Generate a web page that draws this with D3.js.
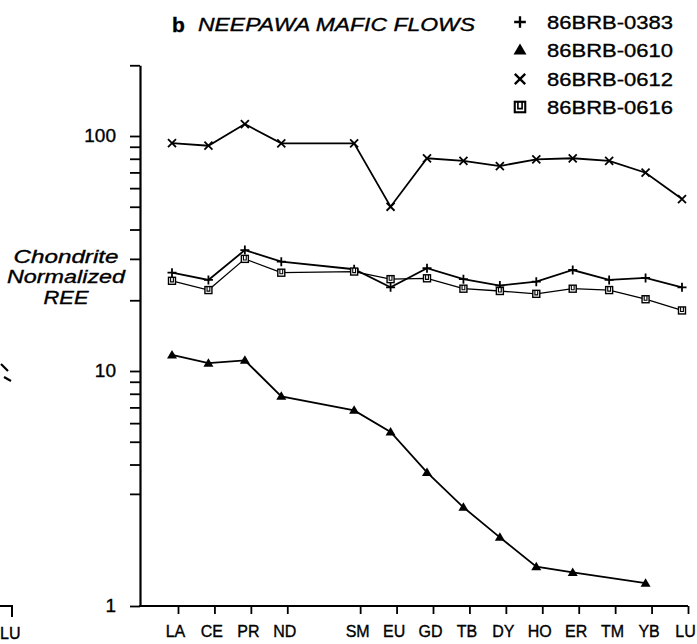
<!DOCTYPE html>
<html>
<head>
<meta charset="utf-8">
<script src="https://cdn.jsdelivr.net/npm/d3@7"></script>
<style>
  html, body { margin: 0; padding: 0; background: #fff; }
  svg { display: block; }
  text { font-family: "Liberation Sans", Arial, Helvetica, sans-serif; fill: #000; stroke: #000; stroke-width: 0.35px; }
</style>
</head>
<body>
<script>
// ---------- DATA ----------
const elements = ["LA","CE","PR","ND","PM","SM","EU","GD","TB","DY","HO","ER","TM","YB","LU"];
const categories = ["LA","CE","PR","ND","SM","EU","GD","TB","DY","HO","ER","TM","YB","LU"];
const s0383 = [26.2, 24.4, 32.7, 29.2, 27.1, 22.7, 27.4, 24.6, 23.1, 24.0, 26.9, 24.4, 24.9, 22.7];
const s0610 = [11.7, 10.8, 11.1, 7.8, 6.8, 5.5, 3.7, 2.63, 1.96, 1.47, 1.39, null, 1.25, null];
const s0612 = [93.3, 90.9, 112.4, 93.0, 93.0, 50.0, 80.4, 78.3, 74.5, 79.6, 80.4, 78.3, 69.8, 53.9];
const s0616 = [24.2, 22.1, 30.0, 26.2, 26.5, 24.6, 24.8, 22.4, 21.9, 21.3, 22.4, 22.1, 20.2, 18.1];
const seriesNames = ["86BRB-0383", "86BRB-0610", "86BRB-0612", "86BRB-0616"];
const seriesMarkers = ["plus", "triangle", "cross", "square"];
const yTickValues = [1, 3, 4, 5, 6, 7, 8, 9, 10, 20, 30, 40, 50, 60, 70, 80, 90, 100, 200];
const yTickLabels = [1, 10, 100];
const titleBold = "b";
const titleItalic = "NEEPAWA MAFIC FLOWS";
const yLabelLines = ["Chondrite", "Normalized", "REE"];

const seriesValues = [s0383, s0610, s0612, s0616];

// ---------- LAYOUT ----------
const W = 697, H = 644;
const svg = d3.select("body").append("svg").attr("width", W).attr("height", H);

const x = d3.scalePoint().domain(elements).range([172, 682]);
const y = d3.scaleLog().domain([1, 200]).range([606, 606 - Math.log10(200) * 235]);

// Y axis
const yAxis = d3.axisLeft(y)
  .tickValues(yTickValues)
  .tickSize(10)
  .tickSizeOuter(0)
  .tickPadding(14)
  .tickFormat(d => yTickLabels.includes(d) ? String(d) : "");
const gy = svg.append("g").attr("transform", "translate(140,0)").call(yAxis);
gy.select(".domain").attr("stroke", "#000").attr("stroke-width", 2.2);
gy.selectAll(".tick line").attr("stroke", "#000").attr("stroke-width", 1.8);
gy.selectAll(".tick text").style("font-size", "19px").attr("dy", "0.3em");

// X axis baseline
svg.append("path").attr("d", `M139,${y(1)}H${x("LU") + 6}`)
  .attr("stroke", "#000").attr("stroke-width", 2.2).attr("fill", "none");
const xAxis = d3.axisBottom(x)
  .tickValues(categories)
  .tickSize(8)
  .tickSizeOuter(0)
  .tickPadding(12);
const gx = svg.append("g").attr("transform", `translate(6,${y(1)})`).call(xAxis);
gx.select(".domain").remove();
gx.selectAll(".tick line").attr("stroke", "#000").attr("stroke-width", 1.8);
gx.selectAll(".tick text").style("font-size", "16px").attr("dx", "-3");

// Lines
const line = d3.line().x(d => x(d.c)).y(d => y(d.v));
const strokeW = [1.8, 1.8, 1.8, 1.3];
seriesValues.forEach((vals, i) => {
  const pts = categories.map((c, j) => ({c, v: vals[j]})).filter(d => d.v != null);
  svg.append("path").datum(pts).attr("d", line)
    .attr("fill", "none").attr("stroke", "#000").attr("stroke-width", strokeW[i]);
  const g = svg.append("g");
  pts.forEach(d => drawMarker(g, seriesMarkers[i], x(d.c), y(d.v), 1));
});

function drawMarker(g, type, cx, cy, s) {
  if (type === "plus") {
    const a = 4.5 * s;
    g.append("path").attr("d", `M${cx - a},${cy}H${cx + a}M${cx},${cy - a}V${cy + a}`)
      .attr("stroke", "#000").attr("stroke-width", 1.8 * s).attr("fill", "none");
  } else if (type === "cross") {
    const a = 4 * s;
    g.append("path").attr("d", `M${cx - a},${cy - a}L${cx + a},${cy + a}M${cx - a},${cy + a}L${cx + a},${cy - a}`)
      .attr("stroke", "#000").attr("stroke-width", 1.8 * s).attr("fill", "none");
  } else if (type === "triangle") {
    const a = 5 * s;
    g.append("path").attr("d", `M${cx},${cy - a}L${cx + a},${cy + a * 0.7}L${cx - a},${cy + a * 0.7}Z`)
      .attr("fill", "#000");
  } else if (type === "square") {
    const a = 3.5 * s;
    g.append("rect").attr("x", cx - a).attr("y", cy - a).attr("width", 2 * a).attr("height", 2 * a)
      .attr("fill", "#fff").attr("stroke", "#000").attr("stroke-width", 1.4 * s);
    g.append("path").attr("d", `M${cx - a * 0.4},${cy - a}V${cy + a * 0.3}H${cx + a * 0.4}V${cy - a}`)
      .attr("fill", "none").attr("stroke", "#000").attr("stroke-width", 1.1 * s);
  }
}

// Legend
const legendRowsY = [22, 50, 79, 107];
seriesNames.forEach((name, i) => {
  const ly = legendRowsY[i];
  drawMarker(svg, seriesMarkers[i], 520, ly, i === 3 ? 1.5 : 1.3);
  svg.append("text").attr("x", 547).attr("y", ly + 7)
    .attr("textLength", 126).attr("lengthAdjust", "spacingAndGlyphs")
    .style("font-size", "19px").text(name);
});

// Title
svg.append("text").attr("x", 172).attr("y", 32).style("font-size", "21px").style("font-weight", "bold").text(titleBold);
svg.append("text").attr("x", 198).attr("y", 31).style("font-size", "18px").style("font-style", "italic")
  .attr("textLength", 277).attr("lengthAdjust", "spacingAndGlyphs").text(titleItalic);

// Y label
const yLabelY = [263, 283, 304];
const yLabelLen = [105, 118, 45];
yLabelLines.forEach((t, i) => {
  svg.append("text").attr("x", 66).attr("y", yLabelY[i]).attr("text-anchor", "middle")
    .attr("textLength", yLabelLen[i]).attr("lengthAdjust", "spacingAndGlyphs")
    .style("font-size", "18px").style("font-style", "italic").text(t);
});

// Remnant of neighbouring panel (a) at the left edge
svg.append("path").attr("d", "M0,606H12V617").attr("stroke", "#000").attr("stroke-width", 2).attr("fill", "none");
svg.append("text").attr("x", 0).attr("y", 639).style("font-size", "16px").text("LU");
svg.append("path").attr("d", "M1,364L8,371M4,377L11,381").attr("stroke", "#000").attr("stroke-width", 2.2).attr("fill", "none");
</script>
</body>
</html>
